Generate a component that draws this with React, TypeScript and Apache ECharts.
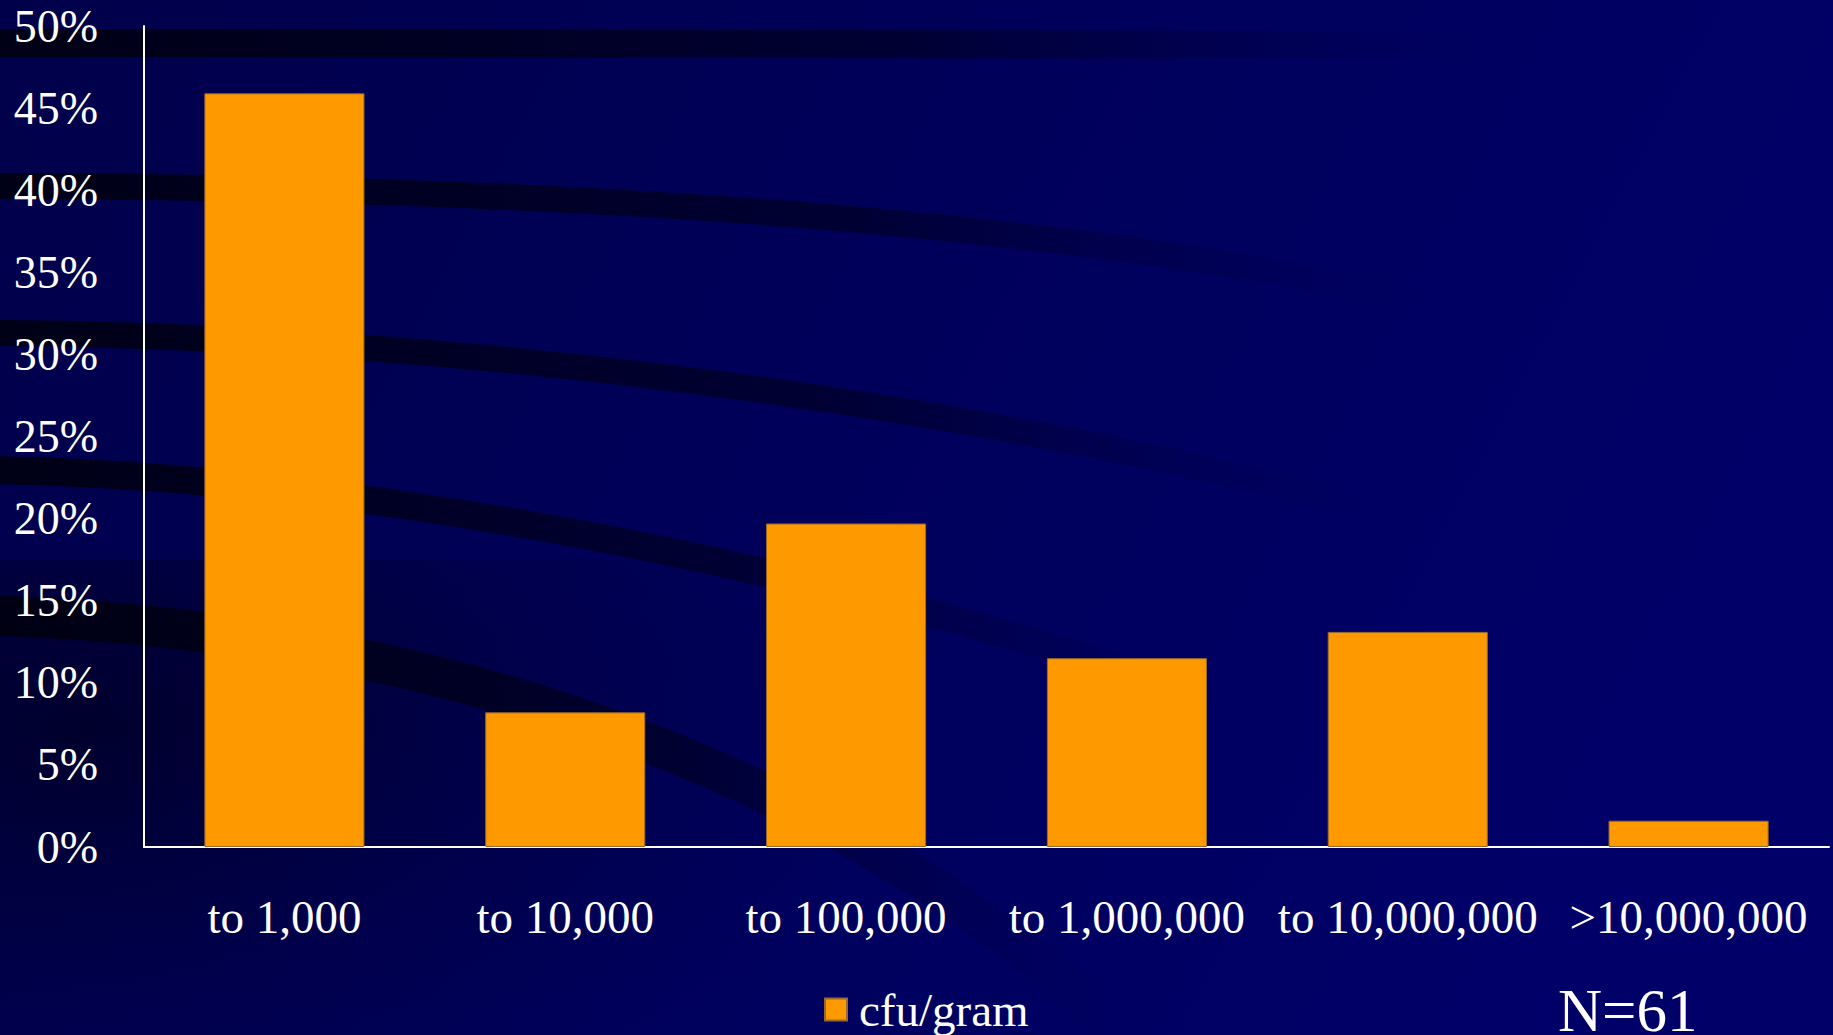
import React, { useEffect, useRef } from "react";
import * as echarts from "echarts";

const categories = ["to 1,000", "to 10,000", "to 100,000", "to 1,000,000", "to 10,000,000", ">10,000,000"];
const cfuPercent = [45.9, 8.2, 19.7, 11.5, 13.1, 1.6];
const seriesName = "cfu/gram";
const noteText = "N=61";

const W = 1833;
const H = 1035;
const FONT = '"Liberation Serif", "Times New Roman", serif';

function band(x1: number, y1: number, cpx1: number, cpy1: number, cpx2: number, cpy2: number, x2: number, y2: number, lw: number) {
  return {
    type: "bezierCurve",
    z: -50,
    silent: true,
    shape: { x1, y1, cpx1, cpy1, cpx2, cpy2, x2, y2 },
    style: {
      fill: null,
      lineWidth: lw,
      stroke: new echarts.graphic.LinearGradient(0, 0, 1, 0, [
        { offset: 0, color: "rgba(0,0,12,0.85)" },
        { offset: 0.6, color: "rgba(0,0,20,0.55)" },
        { offset: 1, color: "rgba(0,0,60,0)" },
      ]),
    },
  };
}

export default function App() {
  const ref = useRef<HTMLDivElement>(null);
  useEffect(() => {
    document.body.style.margin = "0";
    const chart = echarts.init(ref.current!, undefined, { renderer: "svg" });
    chart.setOption({
      animation: false,
      backgroundColor: "#00005a",
      textStyle: { fontFamily: FONT },
      grid: { left: 144, right: 4, top: 26, bottom: 188, containLabel: false },
      legend: {
        data: [seriesName],
        left: 819,
        top: 981,
        icon: "rect",
        itemWidth: 22,
        itemHeight: 22,
        textStyle: { color: "#ffffff", fontSize: 47, fontFamily: FONT, padding: [0, 0, 0, 7] },
      },
      xAxis: {
        type: "category",
        data: categories,
        axisLine: { lineStyle: { color: "#ffffff", width: 2 } },
        axisTick: { show: false },
        axisLabel: { color: "#ffffff", fontSize: 47, fontFamily: FONT, margin: 46, interval: 0 },
        splitLine: { show: false },
      },
      yAxis: {
        type: "value",
        min: 0,
        max: 50,
        interval: 5,
        axisLine: { show: true, lineStyle: { color: "#ffffff", width: 2 } },
        axisTick: { show: false },
        splitLine: { show: false },
        axisLabel: { color: "#ffffff", fontSize: 46, fontFamily: FONT, margin: 46, formatter: "{value}%" },
      },
      series: [
        {
          name: seriesName,
          type: "bar",
          data: cfuPercent,
          barCategoryGap: "43%",
          itemStyle: { color: "#ff9900", borderColor: "#9a6a2a", borderWidth: 1 },
        },
      ],
      graphic: [
        {
          type: "rect",
          z: -100,
          silent: true,
          shape: { x: 0, y: 0, width: W, height: H },
          style: {
            fill: new echarts.graphic.LinearGradient(0, 0, 1, 0.3, [
              { offset: 0, color: "#00004a" },
              { offset: 0.5, color: "#00005a" },
              { offset: 1, color: "#000068" },
            ]),
          },
        },
        {
          type: "rect",
          z: -90,
          silent: true,
          shape: { x: 0, y: 560, width: 900, height: 475 },
          style: {
            fill: new echarts.graphic.RadialGradient(0.1, 0.35, 0.9, [
              { offset: 0, color: "rgba(0,0,20,0.6)" },
              { offset: 1, color: "rgba(0,0,60,0)" },
            ]),
          },
        },
        band(-20, 43, 500, 40, 1000, 42, 1500, 45, 28),
        band(-20, 186, 550, 186, 1050, 220, 1420, 300, 26),
        band(-20, 333, 450, 335, 950, 400, 1380, 510, 26),
        band(-20, 470, 350, 475, 800, 560, 1220, 700, 28),
        band(-20, 615, 350, 625, 800, 730, 1130, 1040, 40),
        {
          type: "text",
          z: 10,
          x: 1558,
          y: 1010,
          style: {
            text: noteText,
            fill: "#ffffff",
            fontSize: 61,
            fontFamily: FONT,
            verticalAlign: "middle",
            align: "left",
          },
        },
      ],
    });
    return () => chart.dispose();
  }, []);
  return <div ref={ref} style={{ width: W, height: H }} />;
}
